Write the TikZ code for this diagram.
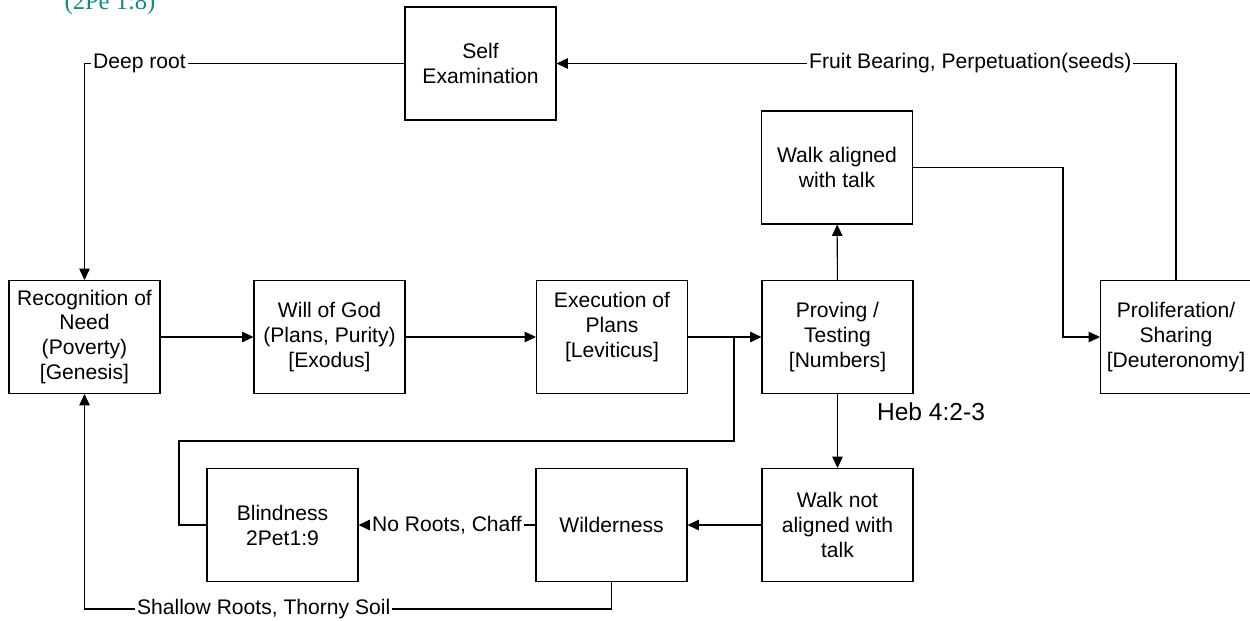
\documentclass[tikz,border=0pt]{standalone}
\usepackage{fontspec}
\setmainfont{Liberation Sans}
\newfontfamily\refserif{Liberation Serif}
\usetikzlibrary{arrows.meta}
\definecolor{verseteal}{RGB}{22,134,134}
\tikzset{
  cardbox/.style={draw, minimum width=3.02cm, minimum height=2.26cm, inner sep=0pt, align=center},
  linetag/.style={fill=white, inner sep=1pt},
  flow/.style={-{Triangle[length=6.5pt,width=6pt]}},
}
\begin{document}
\begin{tikzpicture}[x=0.02cm, y=-0.02cm, font=\fontsize{12}{14.2}\selectfont, line width=0.6pt]
                \useasboundingbox (0,0) rectangle (1250,620);
                \node[anchor=base, text=verseteal, font=\refserif\fontsize{14}{16}\selectfont] (verse) at (110,9) {(2Pe 1:8)};
                \node[cardbox] (need) at (84.5,337) {Recognition of\\Need\\(Poverty)\\{[Genesis]}};
                \node[cardbox] (will) at (329.5,337) {Will of God\\(Plans, Purity)\\{[Exodus]}};
                \node[cardbox] (exec) at (612,337) {Execution of\\Plans\\{[Leviticus]}\\~};
                \node[cardbox] (prove) at (837.5,337) {Proving /\\Testing\\{[Numbers]}};
                \node[cardbox] (spread) at (1176,337) {Proliferation/\\Sharing\\{[Deuteronomy]}};
                \node[cardbox] (walkyes) at (837,167.5) {Walk aligned\\with talk};
                \node[cardbox] (selfex) at (480.5,63.5) {Self\\Examination};
                \node[cardbox] (walkno) at (837.5,525) {Walk not\\aligned with\\talk};
                \node[cardbox] (wild) at (611.5,525) {Wilderness};
                \node[cardbox] (blind) at (282.5,525) {Blindness\\2Pet1:9};
                \node[font=\fontsize{14}{16}\selectfont] (heb) at (931,412) {Heb 4:2-3};
                \coordinate (jn) at (734,337);
                \coordinate (lp) at (179,441);
                \coordinate (rt) at (1063,337);
                \coordinate (lo) at (84.5,609);
                \draw[flow] (need) -- (will);
                \draw[flow] (will) -- (exec);
                \draw[flow] (exec) -- (prove);
                \draw (blind.west) -| (lp) -| (jn);
                \draw[flow] (prove) -- (walkyes);
                \draw[flow] (walkyes.east) -| (rt) -- (spread.west);
                \draw[flow] (spread.north) |- (selfex.east) node[linetag, pos=0.666] {Fruit Bearing, Perpetuation(seeds)};
                \draw[flow] (selfex.west) -| (need.north) node[linetag, pos=0.414] {Deep root};
                \draw[flow] (prove) -- (walkno);
                \draw[flow] (walkno) -- (wild);
                \draw[flow] (wild) -- (blind) node[linetag, midway] {No Roots, Chaff};
                \draw[flow] (wild.south) |- (lo) node[linetag, pos=0.83] {Shallow Roots, Thorny Soil} -- (need.south);
            \end{tikzpicture}
\end{document}
